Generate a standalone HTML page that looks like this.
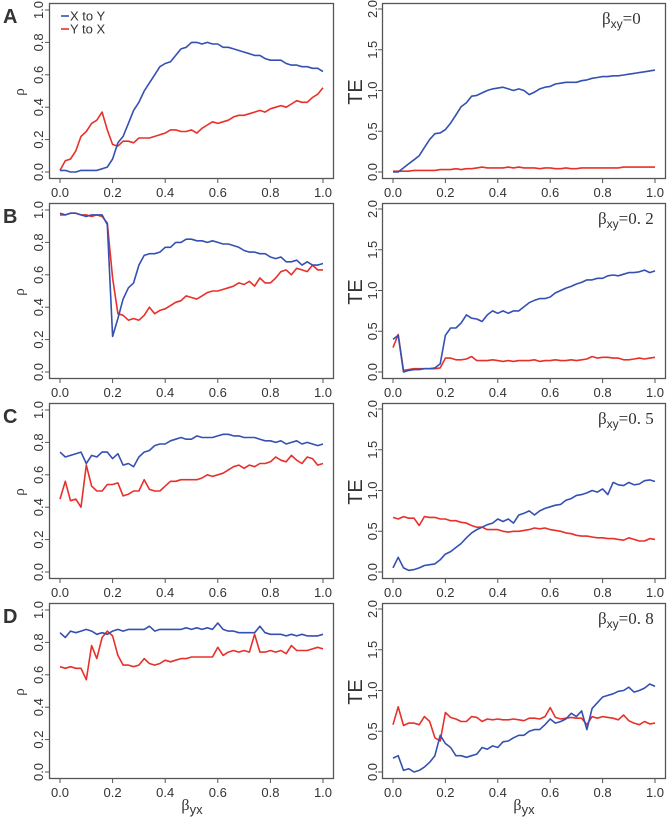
<!DOCTYPE html>
<html><head><meta charset="utf-8"><style>
body{margin:0;background:#fff}
svg{display:block}
text{font-family:"Liberation Sans",sans-serif;fill:#333}
.tk{font-size:13px}
.ser{font-family:"Liberation Serif",serif}
</style></head><body>
<svg id="fig" width="667" height="819" viewBox="0 0 667 819" xmlns="http://www.w3.org/2000/svg"></svg>
<script>
const xs=[0,.02,.04,.06,.08,.10,.12,.14,.16,.18,.20,.22,.24,.26,.28,.30,.32,.34,.36,.38,.40,.42,.44,.46,.48,.50,.52,.54,.56,.58,.60,.62,.64,.66,.68,.70,.72,.74,.76,.78,.80,.82,.84,.86,.88,.90,.92,.94,.96,.98,1];
const xTicks=[0,0.2,0.4,0.6,0.8,1.0];
const xTickLabels=["0.0","0.2","0.4","0.6","0.8","1.0"];
const rhoTicks=[0,0.2,0.4,0.6,0.8,1.0];
const rhoTickLabels=["0.0","0.2","0.4","0.6","0.8","1.0"];
const teTicks=[0,0.5,1.0,1.5,2.0];
const teTickLabels=["0.0","0.5","1.0","1.5","2.0"];
const panelLetters=["A","B","C","D"];
const betaLabels=["=0","=0. 2","=0. 5","=0. 8"];
const rhoA_xy=[.01,.01,0,0,.01,.01,.01,.01,.02,.03,.08,.18,.22,.30,.38,.43,.50,.55,.60,.65,.67,.68,.72,.76,.77,.80,.80,.79,.80,.79,.79,.77,.77,.76,.75,.74,.73,.72,.72,.70,.69,.69,.69,.67,.66,.66,.65,.65,.64,.64,.62];
const rhoA_yx=[.01,.07,.08,.13,.22,.25,.30,.32,.37,.26,.17,.16,.19,.19,.18,.21,.21,.21,.22,.23,.24,.26,.26,.25,.25,.26,.24,.27,.29,.31,.30,.31,.32,.34,.35,.35,.36,.37,.38,.37,.39,.40,.41,.40,.42,.44,.43,.43,.46,.48,.52];
const teA_xy=[0,0,.05,.1,.15,.2,.3,.4,.47,.48,.52,.6,.7,.8,.85,.93,.94,.97,1.0,1.02,1.03,1.04,1.02,1.0,1.02,1.0,.95,.98,1.02,1.04,1.05,1.08,1.09,1.1,1.1,1.1,1.12,1.13,1.15,1.16,1.17,1.17,1.18,1.18,1.19,1.2,1.21,1.22,1.23,1.24,1.25];
const teA_yx=[.01,.01,.01,.01,.02,.02,.02,.02,.02,.03,.03,.03,.04,.03,.04,.04,.05,.06,.05,.05,.05,.05,.06,.05,.06,.05,.05,.05,.04,.05,.05,.04,.04,.05,.04,.04,.05,.05,.05,.05,.05,.05,.05,.05,.06,.06,.06,.06,.06,.06,.06];
const rhoB_xy=[.98,.97,.98,.98,.97,.96,.97,.97,.97,.91,.22,.33,.45,.52,.55,.66,.72,.73,.73,.74,.77,.77,.80,.80,.82,.82,.81,.81,.80,.81,.80,.79,.79,.78,.77,.75,.74,.74,.73,.73,.71,.70,.71,.68,.68,.69,.66,.68,.66,.66,.67];
const rhoB_yx=[.97,.97,.98,.98,.97,.97,.96,.97,.96,.92,.58,.36,.35,.32,.33,.32,.35,.40,.36,.38,.39,.41,.43,.44,.47,.46,.45,.47,.49,.50,.50,.51,.52,.53,.55,.54,.56,.53,.58,.55,.55,.58,.62,.63,.60,.64,.63,.62,.66,.63,.63];
const teB_xy=[.4,.45,0,.02,.03,.03,.04,.04,.05,.10,.45,.54,.54,.6,.7,.66,.65,.62,.7,.75,.72,.75,.72,.75,.75,.8,.85,.88,.9,.9,.92,.97,1.0,1.03,1.05,1.08,1.1,1.13,1.13,1.15,1.15,1.18,1.19,1.18,1.2,1.22,1.22,1.23,1.25,1.22,1.24];
const teB_yx=[.3,.46,.02,.03,.04,.04,.04,.04,.04,.05,.17,.17,.15,.15,.16,.19,.14,.14,.14,.15,.14,.13,.14,.13,.14,.14,.14,.15,.13,.14,.14,.15,.14,.14,.15,.14,.15,.16,.19,.17,.18,.18,.17,.17,.15,.15,.16,.17,.16,.17,.18];
const rhoC_xy=[.74,.71,.72,.73,.74,.67,.72,.71,.74,.74,.70,.73,.66,.67,.65,.71,.74,.75,.78,.79,.79,.81,.82,.83,.82,.82,.84,.83,.83,.83,.84,.85,.85,.84,.84,.83,.83,.83,.82,.81,.81,.80,.81,.79,.80,.81,.79,.80,.79,.78,.79];
const rhoC_yx=[.45,.56,.44,.45,.40,.66,.53,.50,.50,.54,.54,.55,.47,.48,.50,.50,.57,.51,.50,.50,.53,.56,.56,.57,.57,.57,.57,.58,.60,.59,.60,.61,.63,.65,.66,.64,.66,.65,.67,.67,.68,.71,.69,.68,.72,.69,.67,.71,.70,.66,.67];
const teC_xy=[.05,.18,.05,.02,.03,.05,.08,.09,.1,.15,.22,.25,.3,.35,.42,.48,.52,.55,.58,.6,.65,.62,.65,.6,.7,.72,.75,.7,.75,.78,.8,.82,.83,.88,.9,.94,.95,.97,1.0,.98,1.02,.95,1.1,1.07,1.06,1.1,1.07,1.08,1.12,1.13,1.11];
const teC_yx=[.67,.65,.68,.66,.66,.57,.68,.67,.67,.65,.65,.63,.63,.61,.60,.57,.55,.55,.52,.52,.52,.50,.49,.50,.50,.51,.52,.54,.53,.54,.52,.51,.50,.48,.47,.45,.44,.44,.43,.42,.42,.41,.41,.40,.39,.42,.40,.38,.38,.41,.40];
const rhoD_xy=[.86,.83,.87,.86,.87,.88,.87,.85,.86,.85,.87,.88,.87,.88,.88,.88,.88,.90,.87,.88,.88,.88,.88,.88,.89,.88,.89,.88,.89,.88,.92,.88,.87,.87,.86,.86,.86,.86,.90,.86,.85,.85,.85,.84,.85,.84,.85,.84,.84,.84,.85];
const rhoD_yx=[.65,.64,.65,.64,.64,.57,.78,.70,.83,.87,.84,.72,.66,.66,.65,.66,.70,.67,.66,.67,.69,.68,.69,.70,.70,.71,.71,.71,.71,.71,.77,.72,.74,.75,.74,.75,.74,.85,.74,.74,.75,.74,.75,.73,.78,.75,.75,.75,.76,.77,.76];
const teD_xy=[.17,.2,.02,.04,0,.02,.06,.12,.2,.45,.35,.3,.2,.2,.18,.2,.22,.3,.28,.32,.3,.37,.38,.42,.45,.45,.5,.52,.52,.58,.65,.6,.62,.65,.72,.68,.75,.52,.78,.85,.92,.94,.96,.99,1.0,1.04,.98,1.0,1.03,1.08,1.05];
const teD_yx=[.58,.8,.57,.6,.6,.58,.68,.62,.42,.38,.73,.67,.65,.62,.62,.68,.67,.62,.65,.64,.65,.64,.64,.65,.64,.63,.66,.66,.65,.68,.79,.67,.65,.66,.67,.66,.66,.58,.68,.66,.68,.67,.66,.64,.7,.63,.60,.58,.62,.59,.60];

const rhoSeries=[[rhoA_xy,rhoA_yx],[rhoB_xy,rhoB_yx],[rhoC_xy,rhoC_yx],[rhoD_xy,rhoD_yx]];
const teSeries=[[teA_xy,teA_yx],[teB_xy,teB_yx],[teC_xy,teC_yx],[teD_xy,teD_yx]];
const BLUE="#3451b2",RED="#e8302a";
const NS="http://www.w3.org/2000/svg";
const svg=document.getElementById('fig');
function mk(tag,attrs,parent,txt){const e=document.createElementNS(NS,tag);for(const k in attrs)e.setAttribute(k,attrs[k]);if(txt!==undefined)e.textContent=txt;(parent||svg).appendChild(e);return e;}
const L={x0:60,x1:323,bl:49.5,br:333.5};
const R={x0:393,x1:655,bl:382.5,br:665.5};
function xScale(P,v){return P.x0+(P.x1-P.x0)*v;}
function yRho(r,v){return 172+200*r-162*v;}
function yTE(r,v){return 172+200*r-81.5*v;}

for(let r=0;r<4;r++){
  const off=200*r;
  const pl=mk('text',{x:3,y:23+off,'font-size':20,'font-weight':'bold',fill:'#000'},svg,panelLetters[r]);
  
  
  [[L,'rho',yRho,rhoTicks,rhoTickLabels,rhoSeries[r]],[R,'te',yTE,teTicks,teTickLabels,teSeries[r]]].forEach(([P,kind,ys,ticks,tlabels,ser])=>{
    const g=mk('g',{});
    
    
    const box=mk('rect',{x:P.bl,y:3.5+off,width:P.br-P.bl,height:175,fill:'none',stroke:'#555','stroke-width':1.3},g);
    
    
    xTicks.forEach((t,i)=>{
      const x=xScale(P,t);
      mk('line',{x1:x,x2:x,y1:178.5+off,y2:183+off,stroke:'#555'},g);
      const tl=mk('text',{x:x,y:197+off,'text-anchor':'middle',class:'tk'},g,xTickLabels[i]);
      
      
    });
    const yt=P===L?38:372;
    ticks.forEach((t,i)=>{
      const y=ys(r,t);
      mk('line',{x1:P.bl-4.5,x2:P.bl,y1:y,y2:y,stroke:'#555'},g);
      const tl=mk('text',{x:0,y:0,'text-anchor':'middle',class:'tk',transform:`translate(${yt+5},${y}) rotate(-90)`},g,tlabels[i]);
      
      
    });
    let yl;
    if(P===L){yl=mk('text',{x:0,y:0,'text-anchor':'middle','font-size':15,class:'ser',transform:`translate(24,${92+off}) rotate(-90)`},g,'ρ');}
    else{yl=mk('text',{x:0,y:0,'text-anchor':'middle','font-size':20,transform:`translate(362,${92+off}) rotate(-90)`},g,'TE');}
    
    
    [[ser[1],RED,'series-y-to-x'],[ser[0],BLUE,'series-x-to-y']].forEach(([vals,c,nm])=>{
      const d=vals.map((v,i)=>(i?'L':'M')+xScale(P,xs[i]).toFixed(1)+','+ys(r,v).toFixed(1)).join(' ');
      const p=mk('path',{d:d,fill:'none',stroke:c,'stroke-width':1.6,'stroke-linejoin':'round'},g);
      
      
    });
    if(P===R){
      const an=mk('text',{x:r==0?602:598,y:24+off,'font-size':17,class:'ser',fill:'#222'},g);
      
      
      mk('tspan',{},an,'β');
      mk('tspan',{'font-size':12,dy:4,style:'font-family:Liberation Sans,sans-serif'},an,'xy');
      mk('tspan',{dy:-4},an,betaLabels[r]);
    }
  });
}
[192,524].forEach(cx=>{
  const t=mk('text',{x:cx,y:810,'text-anchor':'middle','font-size':16,class:'ser'});
  
  
  mk('tspan',{},t,'β');
  mk('tspan',{'font-size':13,dy:4,style:'font-family:Liberation Sans,sans-serif'},t,'yx');
});
const lg=mk('g',{});


[['X to Y',BLUE,16],['Y to X',RED,29]].forEach(([lab,c,y])=>{
  mk('line',{x1:61,x2:69,y1:y,y2:y,stroke:c,'stroke-width':1.6},lg);
  const t=mk('text',{x:70,y:y+4.5,'font-size':13},lg,lab);
  
  
});
</script>
</body></html>
